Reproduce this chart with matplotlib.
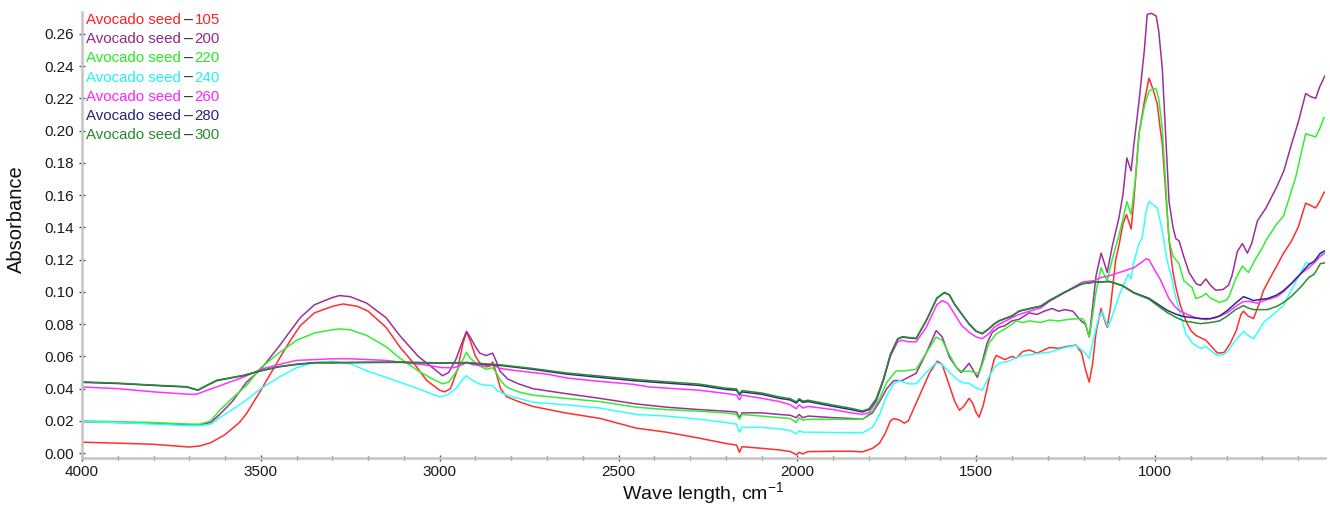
import matplotlib
matplotlib.use("Agg")
import matplotlib.pyplot as plt
import numpy as np

plt.rcParams['font.family'] = ['Liberation Sans', 'DejaVu Sans']
plt.rcParams['mathtext.fontset'] = 'custom'
plt.rcParams['mathtext.rm'] = 'Liberation Sans'
plt.rcParams['mathtext.it'] = 'Liberation Sans:italic'

# ---- data: (wavenumber cm-1, absorbance) ----
s105 = [
    (4000, 0.0068), (3900, 0.0062), (3800, 0.0055), (3700, 0.0038), (3670, 0.0045), (3640, 0.0065),
    (3600, 0.0115), (3560, 0.019), (3540, 0.0245), (3500, 0.039), (3450, 0.058), (3420, 0.069),
    (3390, 0.079), (3350, 0.087), (3300, 0.091), (3270, 0.0925), (3230, 0.091), (3200, 0.088),
    (3150, 0.078), (3112, 0.066), (3070, 0.055), (3036, 0.045), (3000, 0.039), (2986, 0.038),
    (2970, 0.040), (2950, 0.052), (2935, 0.068), (2925, 0.075), (2915, 0.070), (2900, 0.060),
    (2888, 0.056), (2870, 0.0535), (2860, 0.054), (2852, 0.0565), (2845, 0.052), (2830, 0.040),
    (2813, 0.035), (2780, 0.032), (2740, 0.029), (2650, 0.025), (2553, 0.0216), (2450, 0.0155),
    (2366, 0.013), (2274, 0.0093), (2200, 0.006), (2170, 0.005), (2162, 0.0006), (2155, 0.004),
    (2100, 0.003), (2050, 0.002), (2020, 0.001), (2003, -0.001), (1995, 0.0005), (1985, -0.0005),
    (1970, 0.001), (1950, 0.001), (1900, 0.0012), (1850, 0.0012), (1818, 0.0008), (1790, 0.003),
    (1771, 0.006), (1755, 0.012), (1740, 0.020), (1730, 0.0215), (1715, 0.0205), (1701, 0.0186),
    (1690, 0.020), (1670, 0.030), (1650, 0.040), (1630, 0.050), (1609, 0.057), (1595, 0.055),
    (1580, 0.045), (1560, 0.032), (1547, 0.0266), (1535, 0.029), (1520, 0.034), (1510, 0.031),
    (1500, 0.025), (1492, 0.0223), (1480, 0.030), (1465, 0.045), (1450, 0.058), (1444, 0.0606),
    (1420, 0.058), (1400, 0.060), (1388, 0.059), (1370, 0.063), (1352, 0.064), (1330, 0.062),
    (1310, 0.064), (1296, 0.0655), (1270, 0.065), (1250, 0.066), (1221, 0.067), (1205, 0.062),
    (1195, 0.052), (1184, 0.044), (1175, 0.055), (1165, 0.075), (1151, 0.0897), (1145, 0.085),
    (1134, 0.078), (1125, 0.090), (1110, 0.120), (1100, 0.130), (1090, 0.142), (1080, 0.148),
    (1067, 0.139), (1060, 0.155), (1045, 0.198), (1030, 0.218), (1017, 0.2325), (1005, 0.225),
    (994, 0.2165), (985, 0.200), (980, 0.192), (970, 0.160), (961, 0.132), (950, 0.112),
    (942, 0.103), (930, 0.092), (914, 0.082), (900, 0.076), (886, 0.073), (858, 0.070),
    (840, 0.0655), (825, 0.062), (807, 0.0624), (790, 0.068), (773, 0.076), (760, 0.086),
    (753, 0.088), (740, 0.085), (725, 0.0834), (710, 0.092), (697, 0.1008), (680, 0.108),
    (660, 0.116), (641, 0.124), (620, 0.131), (600, 0.140), (579, 0.155), (560, 0.153),
    (551, 0.152), (540, 0.156), (528, 0.1615), (525, 0.162),
]
s200 = [
    (4000, 0.0195), (3900, 0.019), (3800, 0.0185), (3700, 0.0175), (3670, 0.0175), (3640, 0.019),
    (3615, 0.024), (3580, 0.032), (3540, 0.044), (3500, 0.052), (3450, 0.066), (3390, 0.084),
    (3350, 0.092), (3300, 0.0965), (3280, 0.0977), (3250, 0.097), (3204, 0.093), (3150, 0.084),
    (3112, 0.073), (3060, 0.060), (3020, 0.053), (2992, 0.048), (2975, 0.050), (2955, 0.058),
    (2935, 0.070), (2925, 0.0755), (2915, 0.072), (2900, 0.066), (2888, 0.062), (2870, 0.0605),
    (2852, 0.062), (2842, 0.057), (2832, 0.051), (2810, 0.046), (2780, 0.043), (2740, 0.040),
    (2650, 0.037), (2553, 0.034), (2450, 0.0305), (2366, 0.0285), (2274, 0.027), (2200, 0.026),
    (2170, 0.0255), (2162, 0.022), (2155, 0.025), (2100, 0.025), (2050, 0.024), (2020, 0.0235),
    (2003, 0.022), (1995, 0.024), (1985, 0.022), (1970, 0.023), (1900, 0.022), (1850, 0.0215),
    (1818, 0.021), (1790, 0.025), (1770, 0.032), (1750, 0.040), (1730, 0.045), (1707, 0.045),
    (1690, 0.047), (1668, 0.0495), (1640, 0.062), (1612, 0.076), (1595, 0.072), (1575, 0.0595),
    (1555, 0.053), (1542, 0.050), (1530, 0.053), (1520, 0.0557), (1510, 0.052), (1497, 0.047),
    (1485, 0.055), (1470, 0.068), (1455, 0.075), (1436, 0.078), (1420, 0.079), (1400, 0.082),
    (1380, 0.083), (1352, 0.087), (1330, 0.086), (1310, 0.088), (1288, 0.0897), (1270, 0.088),
    (1252, 0.089), (1230, 0.088), (1207, 0.082), (1195, 0.080), (1184, 0.072), (1175, 0.090),
    (1165, 0.110), (1151, 0.124), (1145, 0.120), (1134, 0.112), (1120, 0.128), (1101, 0.146),
    (1090, 0.160), (1079, 0.183), (1067, 0.175), (1060, 0.190), (1045, 0.218), (1030, 0.250),
    (1022, 0.272), (1010, 0.2727), (997, 0.271), (990, 0.262), (980, 0.239), (970, 0.195),
    (961, 0.156), (950, 0.140), (942, 0.133), (933, 0.1316), (920, 0.122), (905, 0.112),
    (885, 0.105), (873, 0.104), (858, 0.108), (845, 0.104), (830, 0.101), (810, 0.1015),
    (795, 0.104), (785, 0.110), (770, 0.125), (756, 0.130), (742, 0.124), (730, 0.130),
    (714, 0.144), (690, 0.152), (660, 0.165), (640, 0.175), (618, 0.192), (600, 0.205),
    (579, 0.223), (565, 0.221), (551, 0.220), (540, 0.227), (528, 0.2325), (525, 0.234),
]
s220 = [
    (4000, 0.020), (3900, 0.0195), (3800, 0.019), (3700, 0.018), (3670, 0.018), (3640, 0.020),
    (3615, 0.0266), (3580, 0.034), (3540, 0.042), (3500, 0.053), (3450, 0.062), (3400, 0.070),
    (3350, 0.0745), (3300, 0.0765), (3280, 0.077), (3250, 0.0765), (3204, 0.073), (3150, 0.066),
    (3112, 0.059), (3060, 0.051), (3020, 0.046), (2992, 0.043), (2975, 0.044), (2955, 0.050),
    (2935, 0.058), (2925, 0.0625), (2915, 0.059), (2900, 0.056), (2888, 0.054), (2870, 0.052),
    (2852, 0.053), (2842, 0.050), (2830, 0.045), (2813, 0.041), (2780, 0.038), (2740, 0.036),
    (2650, 0.034), (2553, 0.032), (2450, 0.0285), (2366, 0.027), (2274, 0.026), (2200, 0.025),
    (2170, 0.024), (2162, 0.021), (2155, 0.024), (2100, 0.023), (2050, 0.022), (2020, 0.0215),
    (2003, 0.019), (1995, 0.022), (1985, 0.0205), (1970, 0.021), (1900, 0.021), (1850, 0.021),
    (1818, 0.021), (1790, 0.026), (1770, 0.034), (1750, 0.044), (1724, 0.051), (1700, 0.051),
    (1668, 0.052), (1640, 0.062), (1612, 0.072), (1595, 0.070), (1575, 0.061), (1555, 0.053),
    (1540, 0.0505), (1520, 0.051), (1505, 0.050), (1492, 0.0494), (1480, 0.057), (1465, 0.068),
    (1444, 0.074), (1420, 0.077), (1400, 0.080), (1388, 0.082), (1370, 0.081), (1352, 0.082),
    (1320, 0.081), (1296, 0.0825), (1270, 0.082), (1240, 0.083), (1204, 0.0835), (1195, 0.081),
    (1184, 0.072), (1175, 0.085), (1165, 0.100), (1151, 0.115), (1145, 0.112), (1134, 0.107),
    (1120, 0.120), (1101, 0.135), (1090, 0.145), (1079, 0.156), (1067, 0.148), (1055, 0.170),
    (1045, 0.198), (1030, 0.215), (1017, 0.2245), (1005, 0.226), (997, 0.2257), (990, 0.220),
    (980, 0.2017), (970, 0.165), (961, 0.132), (950, 0.122), (933, 0.1175), (920, 0.107),
    (897, 0.1027), (886, 0.096), (870, 0.097), (858, 0.099), (845, 0.096), (830, 0.0946),
    (821, 0.0934), (800, 0.095), (792, 0.0977), (775, 0.108), (756, 0.116), (739, 0.112),
    (720, 0.120), (697, 0.1286), (690, 0.132), (660, 0.142), (641, 0.147), (607, 0.171),
    (579, 0.198), (565, 0.197), (551, 0.196), (540, 0.201), (528, 0.208), (525, 0.208),
]
s240 = [
    (4000, 0.0195), (3900, 0.019), (3800, 0.018), (3700, 0.017), (3670, 0.017), (3640, 0.018),
    (3615, 0.022), (3580, 0.027), (3540, 0.033), (3500, 0.040), (3450, 0.047), (3400, 0.053),
    (3355, 0.056), (3300, 0.057), (3250, 0.0555), (3204, 0.051), (3150, 0.047), (3112, 0.044),
    (3060, 0.040), (3020, 0.0365), (3000, 0.035), (2980, 0.036), (2955, 0.040), (2935, 0.046),
    (2925, 0.048), (2915, 0.046), (2890, 0.043), (2870, 0.042), (2852, 0.042), (2840, 0.039),
    (2813, 0.036), (2780, 0.034), (2740, 0.0316), (2650, 0.030), (2553, 0.028), (2450, 0.024),
    (2366, 0.023), (2274, 0.021), (2200, 0.019), (2170, 0.018), (2162, 0.013), (2155, 0.016),
    (2100, 0.016), (2050, 0.015), (2020, 0.014), (2003, 0.012), (1995, 0.014), (1985, 0.013),
    (1970, 0.013), (1900, 0.0128), (1850, 0.0126), (1818, 0.0126), (1790, 0.016), (1770, 0.024),
    (1750, 0.036), (1730, 0.043), (1715, 0.045), (1690, 0.043), (1668, 0.043), (1640, 0.050),
    (1612, 0.056), (1595, 0.055), (1575, 0.050), (1550, 0.045), (1535, 0.0435), (1520, 0.0433),
    (1505, 0.041), (1483, 0.039), (1470, 0.045), (1450, 0.053), (1436, 0.0557), (1410, 0.057),
    (1380, 0.060), (1352, 0.061), (1320, 0.062), (1296, 0.0625), (1260, 0.065), (1240, 0.066),
    (1221, 0.0668), (1205, 0.064), (1195, 0.062), (1184, 0.0587), (1175, 0.068), (1160, 0.082),
    (1148, 0.088), (1140, 0.083), (1131, 0.078), (1120, 0.085), (1100, 0.098), (1085, 0.106),
    (1075, 0.111), (1067, 0.108), (1060, 0.118), (1045, 0.130), (1036, 0.1335), (1025, 0.150),
    (1017, 0.156), (1005, 0.154), (994, 0.152), (986, 0.144), (980, 0.138), (967, 0.120),
    (955, 0.110), (942, 0.0964), (928, 0.085), (914, 0.074), (895, 0.068), (873, 0.065),
    (858, 0.066), (840, 0.063), (826, 0.0606), (810, 0.061), (798, 0.063), (775, 0.070),
    (753, 0.0754), (740, 0.073), (725, 0.071), (710, 0.076), (697, 0.081), (670, 0.086),
    (641, 0.0915), (610, 0.105), (590, 0.113), (579, 0.118), (561, 0.1175), (545, 0.121),
    (533, 0.124), (525, 0.125),
]
s260 = [
    (4000, 0.041), (3900, 0.040), (3800, 0.038), (3700, 0.0365), (3680, 0.0365), (3650, 0.039),
    (3600, 0.043), (3550, 0.047), (3500, 0.052), (3450, 0.055), (3400, 0.0575), (3350, 0.058),
    (3300, 0.0585), (3250, 0.0585), (3200, 0.058), (3150, 0.0575), (3112, 0.0565), (3050, 0.055),
    (2992, 0.053), (2960, 0.053), (2935, 0.055), (2925, 0.0565), (2910, 0.055), (2880, 0.054),
    (2852, 0.055), (2832, 0.0525), (2780, 0.051), (2700, 0.049), (2645, 0.0466), (2553, 0.0445),
    (2460, 0.0427), (2413, 0.041), (2274, 0.039), (2200, 0.037), (2170, 0.036), (2162, 0.033),
    (2155, 0.036), (2100, 0.034), (2050, 0.032), (2020, 0.030), (2003, 0.0275), (1995, 0.030),
    (1985, 0.028), (1970, 0.029), (1900, 0.027), (1850, 0.025), (1818, 0.024), (1800, 0.025),
    (1780, 0.032), (1760, 0.045), (1740, 0.060), (1720, 0.069), (1707, 0.070), (1690, 0.069),
    (1668, 0.069), (1640, 0.078), (1610, 0.092), (1595, 0.0946), (1580, 0.093), (1560, 0.086),
    (1540, 0.079), (1520, 0.075), (1500, 0.072), (1483, 0.071), (1465, 0.074), (1450, 0.078),
    (1436, 0.080), (1400, 0.084), (1380, 0.086), (1352, 0.088), (1320, 0.090), (1296, 0.094),
    (1250, 0.100), (1204, 0.106), (1170, 0.107), (1150, 0.109), (1128, 0.110), (1100, 0.112),
    (1059, 0.115), (1040, 0.118), (1025, 0.1205), (1017, 0.120), (1000, 0.113), (986, 0.108),
    (970, 0.100), (961, 0.0958), (945, 0.091), (933, 0.0884), (910, 0.086), (886, 0.084),
    (858, 0.0828), (830, 0.084), (798, 0.087), (775, 0.091), (753, 0.094), (735, 0.094),
    (714, 0.093), (690, 0.095), (660, 0.097), (641, 0.100), (610, 0.107), (594, 0.111),
    (570, 0.115), (555, 0.118), (538, 0.122), (525, 0.124),
]
s280 = [
    (4000, 0.0439), (3900, 0.0432), (3800, 0.042), (3707, 0.041), (3676, 0.039), (3650, 0.042),
    (3623, 0.045), (3550, 0.048), (3500, 0.051), (3450, 0.0535), (3400, 0.055), (3350, 0.056),
    (3300, 0.056), (3200, 0.0562), (3112, 0.0563), (3000, 0.0558), (2925, 0.056), (2900, 0.0555),
    (2832, 0.0544), (2740, 0.052), (2645, 0.049), (2553, 0.047), (2460, 0.045), (2413, 0.0442),
    (2274, 0.042), (2200, 0.0395), (2170, 0.039), (2162, 0.036), (2155, 0.038), (2100, 0.0365),
    (2050, 0.034), (2020, 0.033), (2003, 0.031), (1995, 0.033), (1985, 0.0315), (1970, 0.032),
    (1900, 0.029), (1850, 0.027), (1818, 0.0255), (1800, 0.027), (1780, 0.033), (1760, 0.045),
    (1740, 0.061), (1720, 0.0705), (1707, 0.072), (1690, 0.0715), (1668, 0.071), (1640, 0.082),
    (1610, 0.096), (1589, 0.0995), (1575, 0.098), (1560, 0.092), (1540, 0.086), (1520, 0.080),
    (1500, 0.0755), (1483, 0.074), (1465, 0.077), (1450, 0.080), (1436, 0.082), (1400, 0.085),
    (1380, 0.088), (1352, 0.0895), (1320, 0.091), (1296, 0.0945), (1250, 0.100), (1204, 0.105),
    (1170, 0.106), (1128, 0.1065), (1092, 0.104), (1059, 0.0995), (1017, 0.096), (990, 0.092),
    (965, 0.0884), (940, 0.086), (920, 0.0847), (873, 0.0834), (845, 0.0834), (820, 0.085),
    (798, 0.0884), (775, 0.093), (753, 0.097), (740, 0.096), (725, 0.0946), (700, 0.0955),
    (686, 0.0958), (660, 0.098), (641, 0.1008), (620, 0.105), (594, 0.111), (570, 0.117),
    (555, 0.119), (538, 0.124), (525, 0.1255),
]
s300 = [
    (4000, 0.0442), (3900, 0.0434), (3800, 0.0422), (3707, 0.0412), (3676, 0.0392), (3650, 0.0422),
    (3623, 0.0452), (3550, 0.0482), (3500, 0.0512), (3450, 0.0537), (3400, 0.0552), (3350, 0.0562),
    (3300, 0.0562), (3200, 0.0564), (3112, 0.0565), (3000, 0.056), (2925, 0.0562), (2900, 0.0558),
    (2832, 0.0548), (2740, 0.0525), (2645, 0.0497), (2553, 0.0478), (2460, 0.0458), (2413, 0.045),
    (2274, 0.0428), (2200, 0.0403), (2170, 0.0398), (2162, 0.0368), (2155, 0.0388), (2100, 0.0373),
    (2050, 0.0348), (2020, 0.0338), (2003, 0.0318), (1995, 0.0338), (1985, 0.0323), (1970, 0.0328),
    (1900, 0.0298), (1850, 0.0278), (1818, 0.0262), (1800, 0.0275), (1780, 0.0335), (1760, 0.0455),
    (1740, 0.0612), (1720, 0.0708), (1707, 0.0722), (1690, 0.0718), (1668, 0.0712), (1640, 0.0822),
    (1610, 0.0962), (1589, 0.0997), (1575, 0.0982), (1560, 0.0922), (1540, 0.0862), (1520, 0.0802),
    (1500, 0.0757), (1483, 0.0742), (1465, 0.0772), (1450, 0.0802), (1436, 0.0822), (1400, 0.0852),
    (1380, 0.0882), (1352, 0.0897), (1320, 0.0912), (1296, 0.0947), (1250, 0.1002), (1204, 0.105),
    (1170, 0.106), (1128, 0.1063), (1092, 0.1038), (1059, 0.0992), (1017, 0.0955), (990, 0.091),
    (965, 0.087), (940, 0.084), (920, 0.082), (873, 0.0803), (845, 0.081), (820, 0.082),
    (798, 0.085), (775, 0.089), (753, 0.0915), (740, 0.090), (725, 0.089), (700, 0.089),
    (686, 0.089), (660, 0.091), (641, 0.0934), (620, 0.097), (594, 0.1027), (570, 0.109),
    (555, 0.111), (538, 0.1175), (525, 0.118),
]

series = [s105, s200, s220, s240, s260, s280, s300]
labels = ["105", "200", "220", "240", "260", "280", "300"]
line_colors = ["#ff2e2e", "#9b309b", "#33ee33", "#33ffff", "#ff33ff", "#2b2b8c", "#2e8b2e"]
text_colors = ["#ff2020", "#8e2a8e", "#22ee22", "#22f2f2", "#ff22ff", "#24247e", "#2a8a2a"]
x_ticks = [4000, 3500, 3000, 2500, 2000, 1500, 1000]
y_ticks = [0.00, 0.02, 0.04, 0.06, 0.08, 0.10, 0.12, 0.14, 0.16, 0.18, 0.20, 0.22, 0.24, 0.26]

fig = plt.figure(figsize=(13.3, 5.18), dpi=100)
ax = fig.add_axes([82 / 1330, 60 / 518, (1325 - 82) / 1330, (458 - 12) / 518])

for s, c in zip(series, line_colors):
    wn = np.array([p[0] for p in s])
    ab = np.array([p[1] for p in s])
    ax.plot(wn, ab, color=c, lw=1.1, solid_joinstyle='round')

ax.set_xlim(4000, 525)
ax.set_ylim(-0.003, 0.2735)
ax.set_xticks(x_ticks)
ax.set_xticks(np.arange(4000, 524, -100), minor=True)
ax.set_yticks(y_ticks)
ax.set_yticklabels([f"{v:.2f}" for v in y_ticks])

for sp in ['top', 'right']:
    ax.spines[sp].set_visible(False)
for sp in ['left', 'bottom']:
    ax.spines[sp].set_color('#c4c4c4')
    ax.spines[sp].set_linewidth(1.8)

ax.tick_params(axis='both', which='both', direction='inout', color='#555555', width=1.0,
               labelsize=11, labelcolor='#1a1a1a')
ax.tick_params(axis='x', which='major', length=4, pad=3)
ax.tick_params(axis='y', which='major', length=4, pad=4)
ax.tick_params(axis='x', which='minor', length=3)

ax.set_xlabel("Wave length, cm$^{-1}$", fontsize=14, color='#111111', labelpad=1)
ax.set_ylabel("Absorbance", fontsize=14.5, color='#111111')
ax.yaxis.set_label_coords(-0.045, 0.536)

# coloured text legend
y0 = 0.982
dy = 0.0431
for i, (lab, tc) in enumerate(zip(labels, text_colors)):
    t = ax.text(0.003, y0 - i * dy, "Avocado seed", transform=ax.transAxes, color=tc,
                fontsize=10.8, ha='left', va='center')
    d = ax.annotate("\u2013", xy=(1, 0.5), xycoords=t, xytext=(2.5, 0), textcoords='offset points',
                    color='#333333', fontsize=11.5, ha='left', va='center')
    ax.annotate(lab, xy=(1, 0.5), xycoords=d, xytext=(1.0, 0), textcoords='offset points',
                color=tc, fontsize=10.8, ha='left', va='center')

fig.savefig("out.png", dpi=100, facecolor='white')
